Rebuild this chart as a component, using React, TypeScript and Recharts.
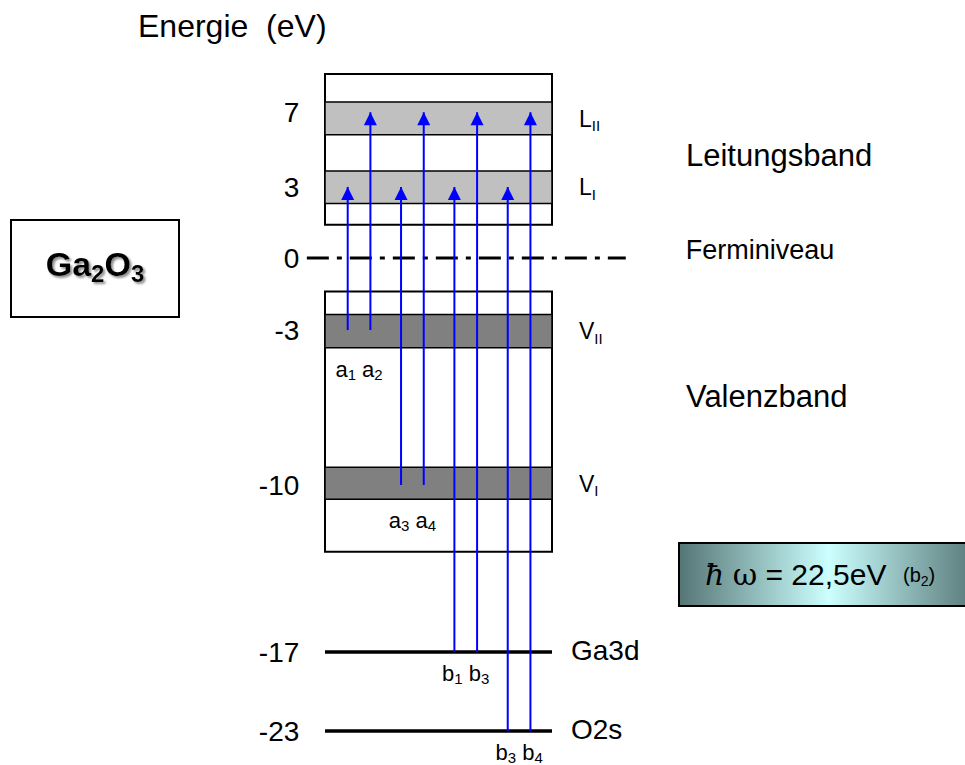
import React from "react";
import {
  ComposedChart,
  XAxis,
  YAxis,
  Line,
  Scatter,
  ReferenceArea,
  ReferenceLine,
} from "recharts";

const FONT = '"Liberation Sans", Arial, Helvetica, sans-serif';
const BLUE = "#0000ff";

// energy axis in eV - the sketch is schematic, so the axis is piecewise linear
const energyTicks = [7, 3, 0, -3, -10, -17, -23];
const axisStops = [6.15, 3, 0, -3.04, -9.58, -16.62, -19.96];

// conduction / valence blocks
const blockNames = ["Leitungsband", "Valenzband"];
const blockTop = [9.05, -1.4];
const blockBottom = [1.4, -12.8];

// sub-bands
const bandLetters = ["L", "L", "V", "V"];
const bandIndex = ["II", "I", "II", "I"];
const bandTop = [7.55, 3.85, -2.35, -9.2];
const bandBottom = [5.8, 2.3, -3.8, -10.6];

// core levels
const coreNames = ["Ga3d", "O2s"];
const coreEnergy = [-17, -23];

const fermiEnergy = 0;

// transitions (column = horizontal slot inside the band box)
const transitionNames = ["a1", "a2", "a3", "a4", "b1", "b3", "b3", "b4"];
const transitionColumn = [1, 2, 3.35, 4.35, 5.7, 6.7, 8.05, 9.05];
const transitionFrom = [-3, -3, -10, -10, -17, -17, -23, -23];
const transitionTo = [3, 7, 3, 7, 3, 7, 3, 7];

function toAxis(e: number) {
  const n = energyTicks.length;
  let i = 0;
  while (i < n - 2 && e < energyTicks[i + 1]) i++;
  const e0 = energyTicks[i];
  const e1 = energyTicks[i + 1];
  const a0 = axisStops[i];
  const a1 = axisStops[i + 1];
  return a0 + ((e - e0) * (a1 - a0)) / (e1 - e0);
}

function tickLabel(v: number) {
  let best = 0;
  axisStops.forEach((s, i) => {
    if (Math.abs(s - v) < Math.abs(axisStops[best] - v)) best = i;
  });
  return String(energyTicks[best]);
}

// lower edge of the level a transition starts from (used to hang its label)
function lowerEdge(e: number) {
  const i = bandTop.findIndex((t, k) => e <= t && e >= bandBottom[k]);
  return i >= 0 ? bandBottom[i] : e;
}

const pairData = [0, 2, 4, 6].map((i) => ({
  x: (transitionColumn[i] + transitionColumn[i + 1]) / 2,
  y: toAxis(lowerEdge(transitionFrom[i])),
  names: [transitionNames[i], transitionNames[i + 1]],
}));

const blockShift: Record<string, number> = { Leitungsband: 5, Valenzband: -26 };

function SubText({ x, y, main, sub, size, subSize }: any) {
  return (
    <text x={x} y={y + size * 0.358} fontSize={size} fontFamily={FONT} fill="#000">
      <tspan>{main}</tspan>
      <tspan fontSize={subSize} dy={subSize * 0.3}>
        {sub}
      </tspan>
    </text>
  );
}

const rightOf = (render: (x: number, y: number) => React.ReactNode) => (props: any) => {
  const vb = props.viewBox || {};
  return render(vb.x + vb.width, vb.y + vb.height / 2);
};

const arrowHead = (p: any) => {
  if (p.index !== 1) return <g key={`tail-${p.index}`} />;
  const { cx, cy } = p;
  return (
    <polygon
      key={`head-${p.index}`}
      points={`${cx},${cy} ${cx - 6.5},${cy + 13} ${cx + 6.5},${cy + 13}`}
      fill={BLUE}
    />
  );
};

const pairLabel = (p: any) => {
  const { cx, cy, payload } = p;
  return (
    <text
      x={cx}
      y={cy + 29}
      textAnchor="middle"
      fontSize={22}
      fontFamily={FONT}
      fill="#000"
      style={{ whiteSpace: "pre" }}
    >
      {payload.names.map((n: string, k: number) => (
        <React.Fragment key={k}>
          <tspan dy={k ? -3 : 0}>{(k ? " " : "") + n[0]}</tspan>
          <tspan fontSize={15} dy={3}>
            {n.slice(1)}
          </tspan>
        </React.Fragment>
      ))}
    </text>
  );
};

export default function App() {
  return (
    <div
      style={{
        position: "absolute",
        left: 0,
        top: 0,
        width: 965,
        height: 765,
        overflow: "hidden",
        background: "#fff",
        fontFamily: FONT,
      }}
    >
      <ComposedChart
        width={965}
        height={765}
        margin={{ top: 44.7, right: 4.4, bottom: 9.3, left: 242.3 }}
      >
        <XAxis type="number" dataKey="x" domain={[-1, 28]} hide />
        <YAxis
          type="number"
          domain={[-21, 9]}
          ticks={energyTicks.map(toAxis)}
          tickFormatter={tickLabel}
          interval={0}
          axisLine={false}
          tickLine={false}
          tickSize={0}
          tickMargin={3}
          width={60}
          tick={{ fontSize: 28, fill: "#000", fontFamily: FONT }}
        />

        {blockNames.map((name, i) => (
          <ReferenceArea
            key={name}
            x1={0}
            x2={10}
            y1={toAxis(blockBottom[i])}
            y2={toAxis(blockTop[i])}
            fill="#fff"
            fillOpacity={1}
            stroke="#000"
            strokeWidth={2}
            label={rightOf((x, y) => (
              <text
                x={x + 134}
                y={y + blockShift[name] + 31 * 0.358}
                fontSize={31}
                fontFamily={FONT}
                fill="#000"
              >
                {name}
              </text>
            ))}
          />
        ))}

        {bandLetters.map((letter, i) => (
          <ReferenceArea
            key={`band-${i}`}
            x1={0}
            x2={10}
            y1={toAxis(bandBottom[i])}
            y2={toAxis(bandTop[i])}
            fill={letter === "L" ? "#c0c0c0" : "#808080"}
            fillOpacity={1}
            stroke="#000"
            strokeWidth={1.5}
            label={rightOf((x, y) => (
              <SubText x={x + 27} y={y} main={letter} sub={bandIndex[i]} size={23} subSize={15} />
            ))}
          />
        ))}

        <ReferenceLine
          segment={[
            { x: -0.8, y: toAxis(fermiEnergy) },
            { x: 13.25, y: toAxis(fermiEnergy) },
          ]}
          stroke="#000"
          strokeWidth={3}
          strokeDasharray="22 8 5 8"
          label={rightOf((x, y) => (
            <text x={x + 60} y={y - 9 + 27 * 0.358} fontSize={27} fontFamily={FONT} fill="#000">
              Ferminiveau
            </text>
          ))}
        />

        {coreNames.map((name, i) => (
          <ReferenceLine
            key={name}
            segment={[
              { x: 0, y: toAxis(coreEnergy[i]) },
              { x: 10, y: toAxis(coreEnergy[i]) },
            ]}
            stroke="#000"
            strokeWidth={3.5}
            label={rightOf((x, y) => (
              <text x={x + 19} y={y - 2 + 28 * 0.358} fontSize={28} fontFamily={FONT} fill="#000">
                {name}
              </text>
            ))}
          />
        ))}

        {transitionNames.map((name, i) => (
          <Line
            key={`tr-${i}`}
            data={[
              { x: transitionColumn[i], y: toAxis(transitionFrom[i]) },
              { x: transitionColumn[i], y: toAxis(transitionTo[i]) },
            ]}
            dataKey="y"
            type="linear"
            stroke={BLUE}
            strokeWidth={2}
            dot={arrowHead}
            activeDot={false}
            isAnimationActive={false}
          />
        ))}

        <Scatter data={pairData} dataKey="y" shape={pairLabel} isAnimationActive={false} />
      </ComposedChart>

      <svg
        width={965}
        height={765}
        style={{ position: "absolute", left: 0, top: 0, pointerEvents: "none" }}
      >
        <defs>
          <linearGradient id="photon" x1="0" y1="0" x2="1" y2="0">
            <stop offset="0%" stopColor="#557575" />
            <stop offset="50%" stopColor="#ccffff" />
            <stop offset="100%" stopColor="#557575" />
          </linearGradient>
          <filter id="shade" x="-10%" y="-20%" width="130%" height="150%">
            <feDropShadow dx="2" dy="2" stdDeviation="0.8" floodColor="#808080" floodOpacity="0.9" />
          </filter>
        </defs>

        <text x={138} y={37} fontSize={32} fontFamily={FONT} fill="#000" style={{ whiteSpace: "pre" }}>
          Energie  (eV)
        </text>

        <rect x={11} y={220} width={168} height={97} fill="#fff" stroke="#000" strokeWidth={2} />
        <text
          x={95}
          y={276}
          textAnchor="middle"
          fontSize={34}
          fontWeight="bold"
          fontFamily={FONT}
          fill="#000"
          filter="url(#shade)"
        >
          <tspan>Ga</tspan>
          <tspan fontSize={24} dy={6}>2</tspan>
          <tspan dy={-6}>O</tspan>
          <tspan fontSize={24} dy={6}>3</tspan>
        </text>

        <rect x={679} y={543} width={300} height={63} fill="url(#photon)" stroke="#000" strokeWidth={2} />
        <text x={705} y={585} fontSize={30} fontFamily={FONT} fill="#000" style={{ whiteSpace: "pre" }}>
          <tspan fontFamily="DejaVu Serif" fontStyle="italic">ħ</tspan>
          <tspan> </tspan>
          <tspan fontFamily="DejaVu Serif">ω</tspan>
          <tspan> = 22,5eV</tspan>
        </text>
        <text x={903} y={582} fontSize={20} fontFamily={FONT} fill="#000">
          <tspan>(b</tspan>
          <tspan fontSize={14} dy={4}>2</tspan>
          <tspan dy={-4}>)</tspan>
        </text>
      </svg>
    </div>
  );
}
